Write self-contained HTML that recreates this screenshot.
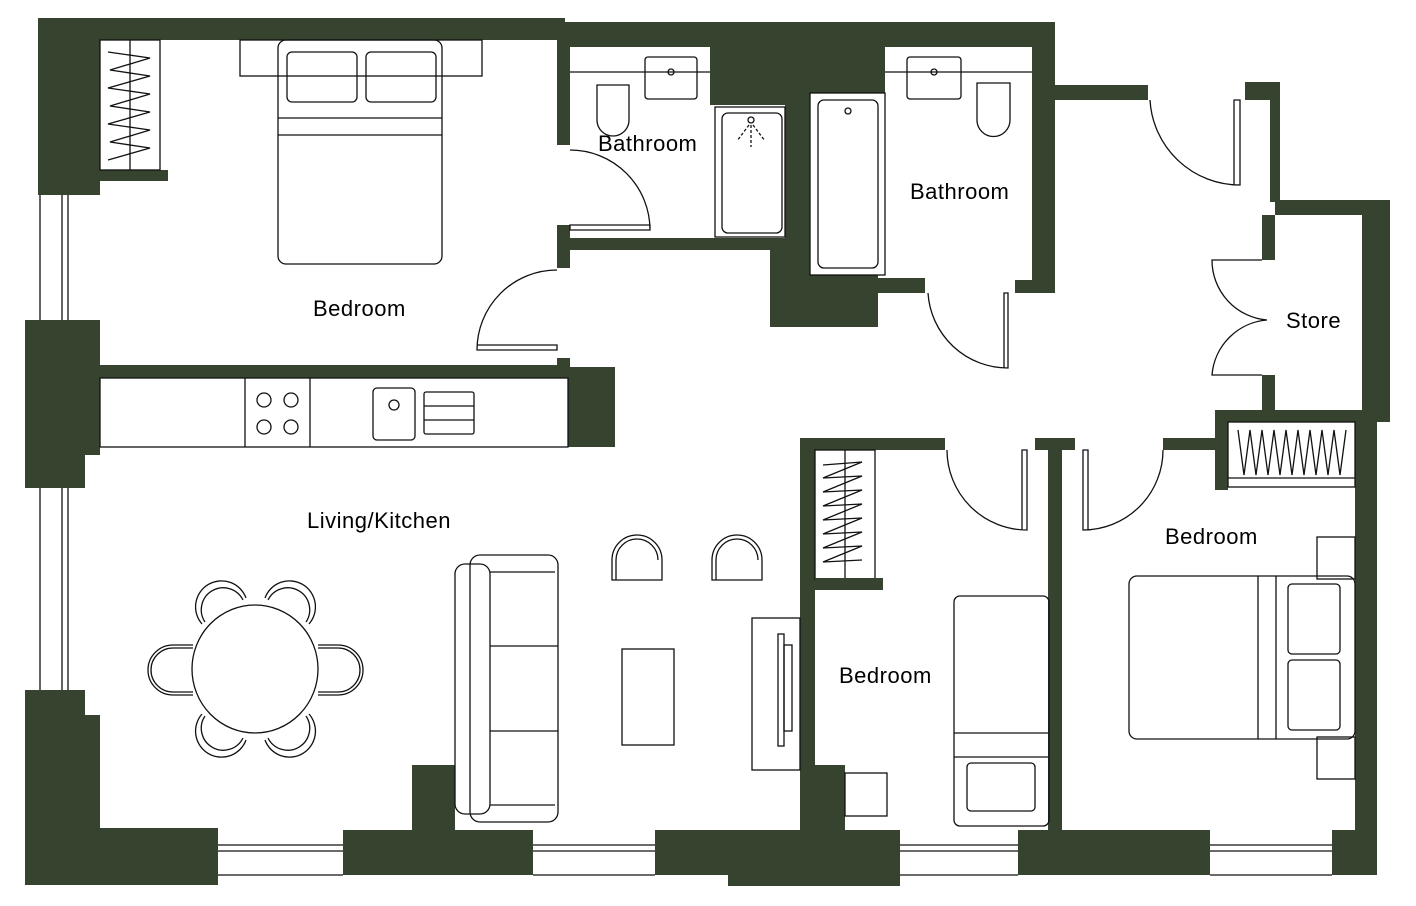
<!DOCTYPE html><html><head><style>body{margin:0;background:#fff}svg{display:block}text{font-family:"Liberation Sans",sans-serif;font-size:22px;fill:#000;letter-spacing:0.5px}</style></head><body>
<svg width="1416" height="906" viewBox="0 0 1416 906" xmlns="http://www.w3.org/2000/svg">
<g fill="#36432f">
<rect x="38" y="18" width="527" height="22"/>
<rect x="565" y="22" width="490" height="25"/>
<rect x="38" y="18" width="62" height="177"/>
<rect x="100" y="170" width="68" height="11"/>
<rect x="25" y="320" width="75" height="135"/>
<rect x="25" y="455" width="60" height="33"/>
<rect x="100" y="365" width="470" height="13"/>
<rect x="568" y="367" width="47" height="80"/>
<rect x="25" y="690" width="60" height="195"/>
<rect x="85" y="715" width="15" height="170"/>
<rect x="25" y="828" width="193" height="57"/>
<rect x="343" y="830" width="190" height="45"/>
<rect x="412" y="765" width="43" height="70"/>
<rect x="655" y="830" width="245" height="45"/>
<rect x="728" y="830" width="172" height="56"/>
<rect x="800" y="440" width="15" height="395"/>
<rect x="800" y="765" width="45" height="70"/>
<rect x="1018" y="830" width="192" height="45"/>
<rect x="1332" y="830" width="45" height="45"/>
<rect x="1355" y="420" width="22" height="455"/>
<rect x="1048" y="440" width="14" height="395"/>
<rect x="800" y="438" width="145" height="12"/>
<rect x="1035" y="438" width="40" height="12"/>
<rect x="1163" y="438" width="55" height="12"/>
<rect x="1215" y="410" width="13" height="80"/>
<rect x="1215" y="410" width="175" height="12"/>
<rect x="1362" y="200" width="28" height="222"/>
<rect x="1275" y="200" width="115" height="15"/>
<rect x="1270" y="82" width="10" height="120"/>
<rect x="1262" y="215" width="13" height="45"/>
<rect x="1262" y="375" width="13" height="45"/>
<rect x="1055" y="85" width="93" height="15"/>
<rect x="1245" y="82" width="35" height="18"/>
<rect x="1032" y="22" width="23" height="271"/>
<rect x="557" y="40" width="13" height="105"/>
<rect x="557" y="225" width="13" height="43"/>
<rect x="557" y="358" width="13" height="10"/>
<rect x="570" y="238" width="200" height="12"/>
<rect x="770" y="238" width="40" height="89"/>
<rect x="810" y="275" width="68" height="52"/>
<rect x="878" y="278" width="47" height="15"/>
<rect x="1015" y="280" width="40" height="13"/>
<rect x="710" y="40" width="175" height="53"/>
<rect x="710" y="93" width="100" height="12"/>
<rect x="785" y="93" width="25" height="145"/>
</g>
<g fill="none" stroke="#111" stroke-width="1.3">
<path d="M40 195V320M62 195V320M68 195V320M40 488V690M62 488V690M68 488V690"/>
<path d="M218 845H343M218 851H343M218 875H343M533 845H655M533 851H655M533 875H655M900 845H1018M900 851H1018M900 875H1018M1210 845H1332M1210 851H1332M1210 875H1332"/>
<rect x="100" y="40" width="60" height="130"/><path d="M130 40V170"/>
<path d="M108 52L150 58L110 70L150 76L108 88L150 94L110 106L150 112L108 124L150 130L110 142L150 148L108 160"/>
<rect x="240" y="40" width="242" height="36"/>
<rect x="278" y="40" width="164" height="224" rx="8"/>
<path d="M278 118H442M278 135H442"/>
<rect x="287" y="52" width="70" height="50" rx="5"/><rect x="366" y="52" width="70" height="50" rx="5"/>
<path d="M570 72H710"/>
<rect x="645" y="57" width="52" height="42" rx="3"/><circle cx="671" cy="72" r="3"/>
<path d="M597 85h32v35a16 16 0 0 1-32 0z"/>
<rect x="715" y="107" width="70" height="130"/><rect x="722" y="113" width="60" height="120" rx="6"/>
<circle cx="751" cy="120" r="3"/><path d="M751 125v22M749 125l-12 16M753 125l12 16" stroke-dasharray="3 2"/>
<path d="M570 150a80 80 0 0 1 80 80M570 225h80v5h-80z"/>
<path d="M885 72H1032"/>
<rect x="810" y="93" width="75" height="182"/><rect x="818" y="100" width="60" height="168" rx="6"/><circle cx="848" cy="111" r="3"/>
<rect x="907" y="57" width="54" height="42" rx="3"/><circle cx="934" cy="72" r="3"/>
<path d="M977 83h33v37a16 16 0 0 1-33 0z"/>
<path d="M928 293a80 80 0 0 0 80 75V293h-4v75"/>
<path d="M557 270a80 80 0 0 0-80 80h80v-5h-80"/>
<path d="M1150 100a90 90 0 0 0 90 85V100h-6v85"/>
<path d="M1262 260h-50a60 60 0 0 0 55 60M1262 375h-50a60 60 0 0 1 55-55"/>
<path d="M947 450a80 80 0 0 0 80 80V450h-5v80M1163 450a80 80 0 0 1-80 80V450h5v80"/>
<rect x="100" y="378" width="468" height="69"/><path d="M245 378V447M310 378V447"/>
<circle cx="264" cy="400" r="7"/><circle cx="291" cy="400" r="7"/><circle cx="264" cy="427" r="7"/><circle cx="291" cy="427" r="7"/>
<rect x="373" y="388" width="42" height="52" rx="4"/><circle cx="394" cy="405" r="5"/>
<rect x="424" y="392" width="50" height="42" rx="2"/><path d="M424 406H474M424 420H474"/>
<ellipse cx="255" cy="669" rx="63" ry="64"/>
<path d="M205 622a22 22 0 1 1 38-22M202 624a26 26 0 1 1 44-26"/>
<path d="M268 600a22 22 0 1 1 38 22M265 598a26 26 0 1 1 44 26"/>
<path d="M205 716a22 22 0 1 0 38 22M202 714a26 26 0 1 0 44 26"/>
<path d="M268 738a22 22 0 1 0 38-22M265 740a26 26 0 1 0 44-26"/>
<path d="M193 648h-20a22 22 0 0 0 0 44h20M193 645h-20a25 25 0 0 0 0 50h20"/>
<path d="M318 648h20a22 22 0 0 1 0 44h-20M318 645h20a25 25 0 0 1 0 50h-20"/>
<rect x="455" y="564" width="35" height="250" rx="10"/>
<rect x="470" y="555" width="88" height="267" rx="10"/>
<path d="M490 572H555M490 646H558M490 731H558M490 805H555"/>
<rect x="622" y="649" width="52" height="96"/>
<path d="M612 580v-20a25 25 0 0 1 50 0v20zM616 580v-20a21 21 0 0 1 42 0"/>
<path d="M712 580v-20a25 25 0 0 1 50 0v20zM716 580v-20a21 21 0 0 1 42 0"/>
<rect x="752" y="618" width="48" height="152"/><rect x="778" y="634" width="6" height="112"/><rect x="784" y="645" width="8" height="86"/>
<rect x="815" y="450" width="60" height="130"/><path d="M845 450V580"/>
<path d="M823 465L862 462L823 478L862 476L823 492L862 490L823 506L862 504L823 520L862 518L823 534L862 532L823 548L862 546L823 562L862 560"/>
<rect x="845" y="773" width="42" height="43"/>
<rect x="954" y="596" width="95" height="230" rx="6"/><path d="M954 733H1049M954 757H1049"/>
<rect x="967" y="763" width="68" height="48" rx="4"/>
<rect x="1228" y="422" width="127" height="65"/><path d="M1228 478H1355"/>
<path d="M1238 430L1244 475L1250 430L1256 475L1262 430L1268 475L1274 430L1280 475L1286 430L1292 475L1298 430L1304 475L1310 430L1316 475L1322 430L1328 475L1334 430L1340 475L1346 430"/>
<rect x="1317" y="537" width="38" height="42"/><rect x="1317" y="737" width="38" height="42"/>
<rect x="1129" y="576" width="226" height="163" rx="8"/><path d="M1258 576V739M1276 576V739"/>
<rect x="1288" y="584" width="52" height="70" rx="4"/><rect x="1288" y="660" width="52" height="70" rx="4"/>
</g>
<rect x="815" y="578" width="68" height="12" fill="#36432f"/>
<text x="313" y="316">Bedroom</text>
<text x="598" y="151">Bathroom</text>
<text x="910" y="199">Bathroom</text>
<text x="1286" y="328">Store</text>
<text x="307" y="528">Living/Kitchen</text>
<text x="1165" y="544">Bedroom</text>
<text x="839" y="683">Bedroom</text>
</svg></body></html>
